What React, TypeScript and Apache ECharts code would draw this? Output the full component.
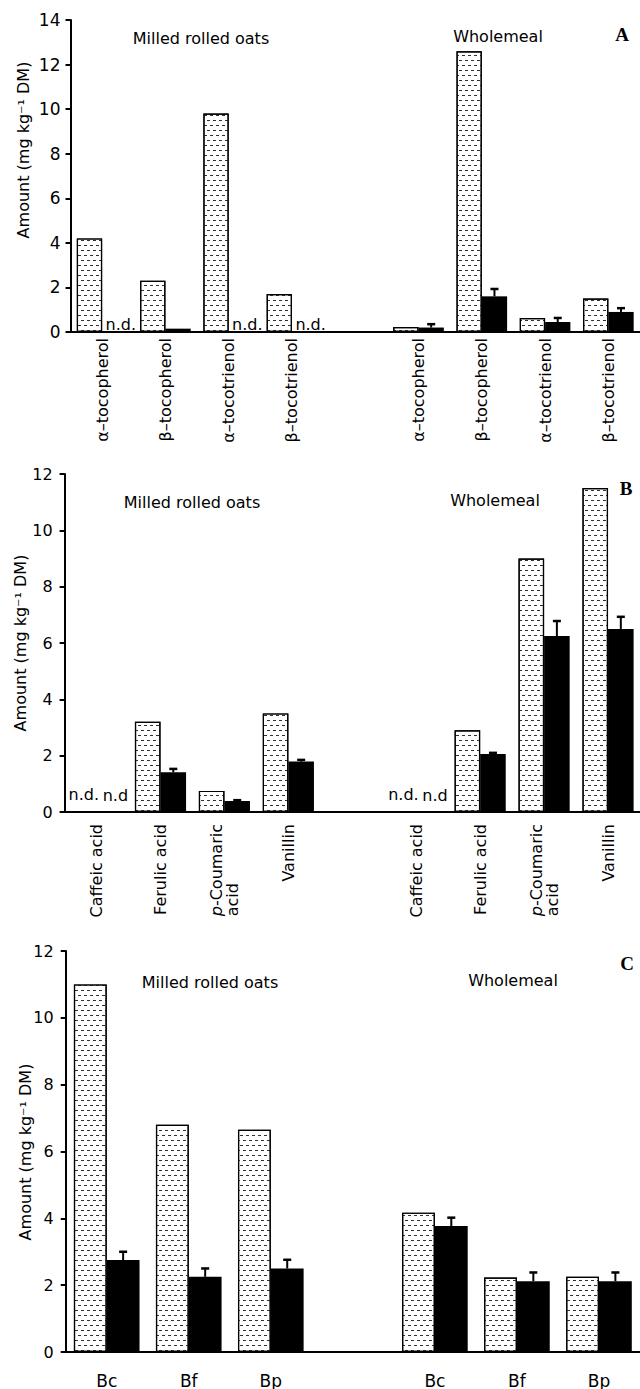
import React, { useEffect, useRef } from "react";
import * as echarts from "echarts";

const ND = "n.d.";

// Panel A – tocopherols / tocotrienols
const catsA = ["α–tocopherol", "β–tocopherol", "α–tocotrienol", "β–tocotrienol", "", "α–tocopherol", "β–tocopherol", "α–tocotrienol", "β–tocotrienol"];
const hatchedA: (number | string | null)[] = [4.2, 2.3, 9.8, 1.7, null, 0.22, 12.6, 0.63, 1.5];
const solidA: (number | string | null)[] = [ND, 0.15, ND, ND, null, 0.2, 1.6, 0.45, 0.9];
const errA: (number | null)[] = [null, null, null, null, null, 0.35, 1.93, 0.63, 1.07];
const ticksA = { min: 0, max: 14, interval: 2 };

// Panel B – phenolic acids
const catsB = ["Caffeic acid", "Ferulic acid", "p-Coumaric acid", "Vanillin", "", "Caffeic acid", "Ferulic acid", "p-Coumaric acid", "Vanillin"];
const hatchedB: (number | string | null)[] = [ND, 3.2, 0.75, 3.5, null, ND, 2.9, 9.0, 11.5];
const solidB: (number | string | null)[] = [ND, 1.41, 0.39, 1.79, null, ND, 2.06, 6.25, 6.5];
const errB: (number | null)[] = [null, 1.53, 0.42, 1.85, null, null, 2.1, 6.78, 6.93];
const ticksB = { min: 0, max: 12, interval: 2 };

// Panel C – avenanthramides
const catsC = ["Bc", "Bf", "Bp", "", "Bc", "Bf", "Bp"];
const hatchedC: (number | string | null)[] = [11.0, 6.8, 6.65, null, 4.17, 2.23, 2.25];
const solidC: (number | string | null)[] = [2.75, 2.25, 2.5, null, 3.77, 2.12, 2.12];
const errC: (number | null)[] = [3.0, 2.5, 2.76, null, 4.02, 2.38, 2.38];
const ticksC = { min: 0, max: 12, interval: 2 };

const groupLabels = ["Milled rolled oats", "Wholemeal"];
const panelLetters = ["A", "B", "C"];
const yName = "Amount (mg kg⁻¹ DM)";

const FONT = "DejaVu Sans";

const decal = {
  symbol: "rect",
  symbolSize: 1,
  color: "#303030",
  dashArrayX: [[3, 3], [0, 3, 3, 0]],
  dashArrayY: [1, 3.3],
  rotation: 0,
};

function buildData(arr: (number | string | null)[], ndText: string, ndDist: number, ndOffset: number[]) {
  return arr.map((v) => {
    if (v === ND) {
      return {
        value: 0,
        label: {
          show: true,
          position: "top",
          distance: ndDist,
          offset: ndOffset,
          formatter: ndText,
          fontFamily: FONT,
          fontSize: 16,
          color: "#000",
        },
      };
    }
    return v === null ? "-" : v;
  });
}

function errRender(params: any, api: any) {
  const i = api.value(0);
  const v = api.value(1);
  const u = api.value(2);
  const p = api.coord([i, v]);
  const t = api.coord([i, u]);
  const band = api.size([1, 0])[0];
  const x = p[0] + band * 0.2;
  return {
    type: "group",
    children: [
      { type: "line", shape: { x1: x, y1: p[1], x2: x, y2: t[1] }, style: { stroke: "#000", lineWidth: 2 } },
      { type: "line", shape: { x1: x - 4, y1: t[1], x2: x + 4, y2: t[1] }, style: { stroke: "#000", lineWidth: 2.5 } },
    ],
  };
}

export default function App() {
  const ref = useRef<HTMLDivElement>(null);
  useEffect(() => {
    document.body.style.margin = "0";
    if (!ref.current) return;
    const chart = echarts.init(ref.current, undefined, { renderer: "svg" });

    const grids = [
      { left: 70.5, top: 20, width: 571.5, height: 312 },
      { left: 64.6, top: 474, width: 576, height: 338 },
      { left: 65.7, top: 951, width: 583.3, height: 402 },
    ];
    const cats = [catsA, catsB, catsC];
    const ticks = [ticksA, ticksB, ticksC];
    const hatched = [hatchedA, hatchedB, hatchedC];
    const solid = [solidA, solidB, solidC];
    const errs = [errA, errB, errC];

    const xAxis = cats.map((c, k) => ({
      type: "category",
      gridIndex: k,
      data: c,
      axisLine: { lineStyle: { color: "#000", width: 2 } },
      axisTick: { show: false },
      axisLabel: {
        interval: 0,
        rotate: k < 2 ? 90 : 0,
        margin: k === 0 ? 6 : k === 1 ? 12 : 20,
        fontFamily: FONT,
        fontSize: k === 2 ? 17 : 16,
        color: "#000",
        formatter: (v: string) => (v === "p-Coumaric acid" ? "{i|p}-Coumaric\n{a|acid}" : v),
        rich: {
          i: { fontStyle: "italic", fontFamily: FONT, fontSize: 16, color: "#000" },
          a: { fontFamily: FONT, fontSize: 16, color: "#000", width: 56, align: "left" },
        },
      },
    }));

    const yAxis = ticks.map((t, k) => ({
      type: "value",
      gridIndex: k,
      min: t.min,
      max: t.max,
      interval: t.interval,
      splitLine: { show: false },
      axisLine: { show: true, lineStyle: { color: "#000", width: 2 } },
      axisTick: { show: true, length: 5, lineStyle: { color: "#000", width: 2 } },
      axisLabel: { margin: k === 0 ? 10 : 12, fontFamily: FONT, fontSize: k === 0 ? 17 : 16, color: "#000" },
    }));

    const series: any[] = [];
    for (let k = 0; k < 3; k++) {
      const ndDist = k === 0 ? 0 : 9;
      series.push({
        type: "bar",
        xAxisIndex: k,
        yAxisIndex: k,
        barWidth: "40%",
        barGap: "0%",
        data: buildData(hatched[k], "n.d.", ndDist, [0, 0]),
        itemStyle: { color: "#fff", borderColor: "#000", borderWidth: 1.2, decal },
      });
      series.push({
        type: "bar",
        xAxisIndex: k,
        yAxisIndex: k,
        barWidth: "40%",
        barGap: "0%",
        data: buildData(solid[k], k === 1 ? "n.d" : "n.d.", ndDist, [6, 0]),
        itemStyle: { color: "#000" },
      });
      series.push({
        type: "custom",
        xAxisIndex: k,
        yAxisIndex: k,
        renderItem: errRender,
        encode: { x: 0, y: [1, 2] },
        data: errs[k]
          .map((u, i) => (u == null ? null : [i, solid[k][i] as number, u]))
          .filter((d) => d !== null),
        z: 3,
      });
    }

    const txt = (text: string, x: number, y: number, extra: any = {}) => ({
      type: "text",
      x,
      y,
      ...extra.el,
      style: {
        text,
        fontFamily: FONT,
        fontSize: 16,
        fill: "#000",
        textAlign: "center",
        textVerticalAlign: "middle",
        align: "center",
        verticalAlign: "middle",
        ...extra.style,
      },
    });
    const letterStyle = { style: { fontFamily: "Liberation Serif", fontWeight: "bold", fontSize: 19 } };
    const rot = { el: { rotation: Math.PI / 2 } };

    const graphic = [
      txt(groupLabels[0], 201, 38),
      txt(groupLabels[1], 498, 36),
      txt(panelLetters[0], 622, 34, letterStyle),
      txt(yName, 23, 150, rot),
      txt(groupLabels[0], 192, 502),
      txt(groupLabels[1], 495, 500),
      txt(panelLetters[1], 626, 488, letterStyle),
      txt(yName, 20, 643, rot),
      txt(groupLabels[0], 210, 982),
      txt(groupLabels[1], 513, 980),
      txt(panelLetters[2], 627, 963, letterStyle),
      txt(yName, 25, 1152, rot),
    ];

    chart.setOption({
      animation: false,
      backgroundColor: "#fff",
      grid: grids,
      xAxis,
      yAxis,
      series,
      graphic,
    });
    return () => chart.dispose();
  }, []);
  return <div ref={ref} style={{ width: 640, height: 1389 }} />;
}
